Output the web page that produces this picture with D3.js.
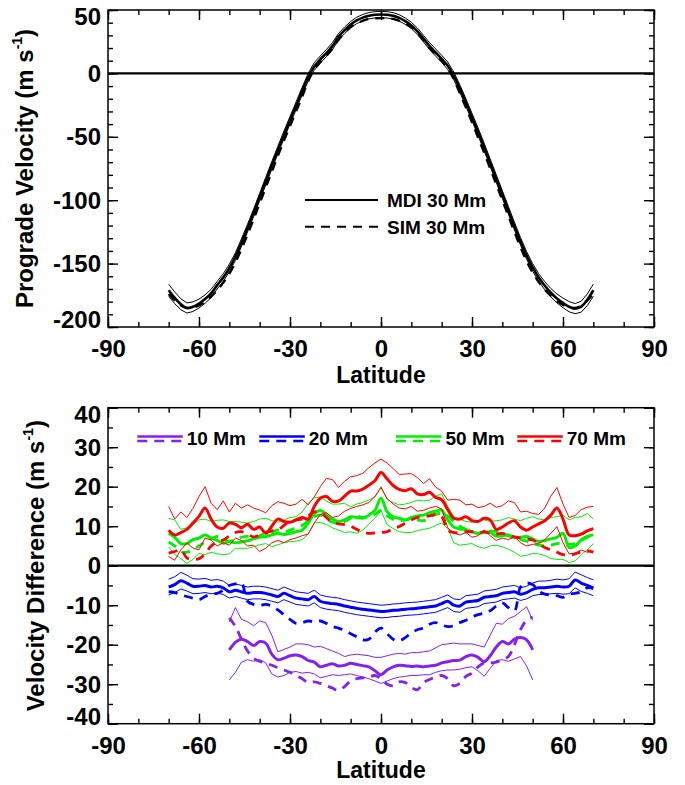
<!DOCTYPE html>
<html><head><meta charset="utf-8">
<script src="https://cdn.jsdelivr.net/npm/d3@7"></script>
<style>
body{margin:0;background:#fff}
svg text{font-family:"Liberation Sans",Arial,Helvetica,sans-serif;font-weight:bold;fill:#000}
</style>
</head><body>
<svg id="chart" width="685" height="785"></svg>
<script>
// ---------------- DATA ----------------
const xTicks = [-90, -60, -30, 0, 30, 60, 90];
const xMinorTicks = [-90,-80,-70,-60,-50,-40,-30,-20,-10,0,10,20,30,40,50,60,70,80,90];
const yTicksTop = [-200, -150, -100, -50, 0, 50];
const yMinorTop = [-200,-190,-180,-170,-160,-150,-140,-130,-120,-110,-100,-90,-80,-70,-60,-50,-40,-30,-20,-10,0,10,20,30,40,50];
const yTicksBot = [-40, -30, -20, -10, 0, 10, 20, 30, 40];
const yMinorBot = [-40,-35,-30,-25,-20,-15,-10,-5,0,5,10,15,20,25,30,35,40];

const lat70 = d3.range(-70, 71, 2);   // latitude grid, 71 points
const lat50 = d3.range(-50, 51, 2);   // latitude grid, 51 points

// Top panel: prograde velocity at 30 Mm
const mdi30 = [
 -171,-177,-182,-185,-184,-181.5,-178,-173.5,-167,-161,-153.5,-144.5,
 -133.5,-122,-110,-97.5,-85,-72.5,-60.5,-48.5,-37,-25.5,-14,-3,
 5.5,11,16,21.5,29,34,38.5,41.8,44,45.5,46.2,46.4,
 46.2,45.4,43.8,41.2,37.8,33.2,27.5,21.5,16.5,11.5,6,-2,
 -12,-23,-34.5,-46,-58,-70.5,-83,-95.5,-108,-120.5,-132.5,-143.5,
 -153,-161,-167.5,-173,-177.5,-181,-184,-185.5,-184,-178.5,-171];
const mdi30Err = [
 4.8,4.6,4.3,4,3.8,3.5,3.3,3.2,3,3,3,3,
 3,3,3,3,3,3,3,3,3,3,3,3,
 3,2.8,2.8,2.8,2.6,2.6,2.5,2.5,2.5,2.5,2.5,2.5,
 2.5,2.5,2.5,2.5,2.5,2.6,2.6,2.8,2.8,2.8,3,3,
 3,3,3,3,3,3,3,3,3,3,3,3,
 3,3,3.2,3.3,3.5,3.8,4,4,4.3,4.6,4.8];
const sim30 = [
 -174,-179,-183,-185,-184.5,-183,-180,-176,-171,-165,-158,-149,
 -138.5,-127,-115,-102.5,-90,-77.5,-65,-53,-41.5,-30,-18.5,-6,
 3,9,14,19.5,26.5,32,36.5,39.5,41.5,43,43.5,43.6,
 43.5,43,41.5,39.5,36.5,32,26,20,15,10,4.5,-4.5,
 -15.5,-27,-38.5,-50.5,-62.5,-75,-87.5,-100,-112.5,-125,-137,-148,
 -157,-164.5,-170.5,-175.5,-179.5,-182.5,-184.5,-185,-183.5,-179,-174];

// Bottom panel: velocity differences
const mdi70 = [
 9.0,7.8,8.4,9.2,10.8,12.5,14.6,11.8,9.8,9.5,10.8,10.5,
 9.6,10.5,9.2,9.8,8.2,10.0,11.8,11.2,11.0,11.6,12.2,11.8,
 15.0,17.1,17.5,16.3,16.4,17.6,18.9,18.9,19.4,20.4,21.5,23.6,
 22.0,20.3,19.3,19.0,19.5,18.2,18.0,18.6,17.3,16.7,14.2,12.0,
 11.8,12.4,11.4,11.2,12.0,11.6,9.2,9.8,10.8,11.4,9.8,9.0,
 9.8,10.6,11.4,12.8,14.6,11.8,7.8,7.6,8.0,8.8,9.4];
const mdi70Hi = [
 15.0,11.8,13.6,12.2,14.5,17.5,20.0,15.8,14.2,16.4,13.6,15.8,
 14.6,15.4,14.6,14.1,13.4,15.2,16.2,15.8,15.2,15.6,16.8,15.4,
 17.4,20.0,22.1,21.8,19.8,21.4,22.5,22.8,23.4,24.8,26.0,27.0,
 26.0,24.6,23.1,23.2,23.3,22.3,20.8,22.0,19.9,18.9,16.6,16.8,
 16.6,15.4,15.6,14.7,15.0,15.8,14.8,15.2,16.4,16.0,13.6,13.8,
 13.2,13.0,14.6,17.6,19.8,15.6,12.2,12.7,14.2,14.8,15.0];
const mdi70Lo = [
 2.3,1.4,4.0,5.8,4.5,4.0,7.0,6.5,5.0,5.8,5.2,7.0,
 6.4,5.0,5.2,3.6,4.4,5.8,6.4,5.8,6.6,7.0,7.6,8.0,
 10.8,13.0,13.4,12.2,12.6,13.8,14.5,15.0,15.4,16.0,17.5,19.8,
 17.0,15.6,14.6,14.4,15.0,13.8,14.0,14.6,15.0,14.4,9.6,8.2,
 7.8,8.4,7.2,7.6,9.0,7.6,6.4,7.0,6.6,7.4,5.8,5.0,
 5.4,5.6,6.6,8.2,9.9,5.8,3.0,3.2,4.0,3.4,3.7];
const sim70 = [
 3.2,3.6,4.0,2.0,1.6,1.8,3.0,5.0,6.0,6.5,7.5,8.4,
 8.6,8.0,7.3,7.8,8.4,8.8,9.0,10.2,11.2,11.6,11.8,12.6,
 13.6,13.4,12.2,11.0,10.6,10.4,10.0,9.2,8.4,8.2,8.3,8.4,
 8.6,9.4,9.9,10.8,11.6,12.2,12.4,12.6,13.0,12.4,9.0,8.4,
 8.4,8.6,8.6,8.4,8.5,8.3,8.0,8.2,7.8,7.3,7.0,6.8,
 6.5,5.6,4.6,4.0,3.4,2.8,2.6,3.0,3.5,3.8,3.4];

const mdi50 = [
 8.2,7.2,5.6,5.6,6.6,7.0,7.8,7.0,6.4,5.7,6.1,5.8,
 6.0,6.3,6.8,7.2,7.4,7.8,8.2,7.9,8.2,8.6,9.0,10.8,
 13.2,14.0,13.0,11.8,11.2,11.6,12.4,12.2,12.0,12.8,14.0,17.1,
 13.7,12.4,12.0,11.6,12.2,12.6,12.8,13.4,13.8,14.1,11.6,9.8,
 9.3,9.1,8.6,8.2,8.6,8.4,7.5,7.6,7.8,7.1,7.2,7.4,
 6.8,6.1,6.4,6.8,7.2,8.2,4.6,5.0,6.5,7.4,7.8];
const mdi50Hi = [
 12.0,11.6,9.2,9.6,10.4,11.6,11.8,11.2,11.5,11.6,11.2,11.2,
 11.0,10.8,11.2,11.8,12.0,11.4,11.0,11.6,12.2,12.4,13.6,15.8,
 17.2,17.4,16.4,15.6,15.6,15.8,14.9,15.6,16.0,16.6,17.4,20.0,
 16.8,16.0,15.4,15.6,16.0,16.6,16.4,16.6,17.6,18.2,15.0,12.4,
 11.8,11.2,11.0,11.4,11.6,11.2,11.4,11.6,12.2,11.8,11.4,12.0,
 12.4,11.8,11.6,12.2,12.4,12.8,11.6,12.2,12.4,13.2,11.8];
const mdi50Lo = [
 4.8,2.8,1.8,0.6,1.6,3.1,2.8,3.4,3.0,2.8,3.0,4.4,
 4.4,4.4,4.8,5.3,5.6,4.8,5.3,5.8,6.1,6.2,6.6,8.0,
 10.8,11.0,10.4,9.6,9.0,8.4,8.6,8.2,9.0,10.6,12.0,14.0,
 10.4,9.4,8.6,8.4,8.4,8.9,9.2,9.5,10.2,10.8,9.4,5.8,
 5.2,5.4,5.6,4.8,4.4,5.0,5.2,4.8,4.2,3.4,2.4,2.6,
 3.1,3.0,2.6,1.8,1.6,1.6,0.8,1.2,2.8,4.0,5.6];
const sim50 = [
 6.0,5.0,3.6,3.4,4.2,5.0,6.0,6.8,7.4,6.8,6.2,6.6,
 7.2,7.4,7.0,7.6,8.2,8.6,9.0,8.6,9.0,9.6,10.2,11.4,
 12.4,12.8,11.8,11.0,10.8,11.2,12.0,12.6,12.2,12.4,13.0,14.0,
 12.6,11.8,11.4,11.6,11.8,11.6,11.4,12.0,13.0,13.2,12.6,11.2,
 10.0,9.2,8.6,8.2,8.4,8.8,8.6,8.0,7.6,7.0,6.6,6.2,
 5.6,5.2,5.0,5.2,5.6,5.8,5.4,5.6,6.4,7.2,8.0];

const mdi20 = [
 -5.4,-4.8,-3.8,-4.4,-5.2,-5.2,-5.0,-5.4,-5.2,-5.6,-6.6,-6.2,
 -6.6,-7.0,-6.8,-6.8,-7.0,-7.4,-7.8,-7.0,-7.6,-8.2,-8.4,-8.6,
 -7.8,-9.0,-9.4,-9.6,-9.8,-10.2,-10.5,-10.8,-11.0,-11.2,-11.4,-11.6,
 -11.5,-11.3,-11.2,-11.0,-10.9,-10.8,-10.6,-10.4,-10.2,-9.6,-9.0,-10.0,
 -10.2,-9.2,-9.0,-8.8,-8.0,-7.8,-7.6,-7.0,-6.8,-6.6,-7.2,-6.8,
 -6.0,-5.6,-5.6,-5.4,-5.2,-5.4,-5.2,-3.6,-4.4,-5.0,-5.6];
const mdi20Err = [
 2.0,2.0,2.1,2.0,1.9,1.8,1.8,1.7,1.7,1.7,1.6,1.6,
 1.6,1.6,1.6,1.6,1.6,1.6,1.6,1.6,1.6,1.6,1.6,1.6,
 1.6,1.6,1.6,1.6,1.6,1.6,1.6,1.6,1.6,1.6,1.6,1.6,
 1.6,1.6,1.6,1.6,1.6,1.6,1.6,1.6,1.6,1.6,1.6,1.6,
 1.6,1.6,1.6,1.6,1.6,1.6,1.6,1.6,1.6,1.6,1.6,1.6,
 1.6,1.7,1.7,1.7,1.8,1.8,1.9,2.0,2.1,2.0,2.0];
const sim20 = [
 -6.6,-6.8,-7.4,-7.8,-8.2,-8.6,-7.8,-7.2,-7.0,-6.2,-5.0,-4.6,
 -4.4,-9.0,-9.8,-10.0,-9.8,-10.2,-11.2,-12.4,-13.6,-14.6,-14.4,-14.0,
 -14.2,-14.0,-14.6,-15.4,-15.8,-16.4,-17.2,-18.0,-18.8,-18.6,-16.8,-15.8,
 -17.2,-18.6,-19.0,-18.2,-17.0,-16.2,-15.8,-14.8,-14.4,-15.0,-15.4,-15.2,
 -14.4,-13.8,-13.0,-12.4,-12.0,-11.4,-10.2,-9.4,-10.6,-11.4,-5.4,-4.4,
 -4.8,-6.4,-7.2,-7.4,-7.6,-8.0,-7.2,-7.0,-6.6,-5.6,-5.8];

const mdi10 = [
 -21.3,-19.4,-18.6,-19.2,-20.2,-19.2,-19.6,-22.4,-23.8,-23.4,-22.8,-22.6,
 -23.0,-24.0,-24.4,-25.6,-25.2,-24.8,-25.4,-25.2,-24.7,-25.0,-25.3,-25.6,
 -26.6,-27.6,-26.4,-25.6,-25.2,-25.3,-25.5,-25.4,-25.6,-25.4,-25.2,-24.6,
 -24.3,-24.0,-23.9,-23.0,-22.6,-23.2,-24.3,-22.8,-20.6,-19.2,-19.8,-18.6,
 -18.2,-18.8,-21.3];
const mdi10Hi = [
 -14.2,-10.6,-13.6,-14.2,-15.2,-14.0,-14.4,-17.6,-21.8,-21.2,-20.6,-19.8,
 -19.8,-20.0,-20.6,-20.4,-21.0,-21.6,-22.2,-23.0,-22.6,-22.4,-22.6,-22.8,
 -23.2,-23.2,-22.8,-22.4,-22.2,-22.4,-22.0,-22.0,-21.8,-21.6,-20.8,-20.0,
 -19.8,-19.6,-19.8,-19.8,-19.8,-20.2,-20.6,-17.6,-14.6,-14.8,-13.4,-12.8,
 -11.6,-10.4,-13.8];
const mdi10Lo = [
 -28.9,-27.0,-24.4,-23.8,-24.2,-23.8,-24.6,-27.4,-28.2,-27.8,-27.0,-26.8,
 -27.2,-27.0,-27.4,-28.4,-28.0,-27.6,-27.8,-27.6,-27.4,-27.8,-28.2,-28.6,
 -29.2,-29.8,-29.2,-28.6,-28.2,-28.0,-27.8,-27.8,-27.6,-27.6,-27.0,-26.6,
 -26.4,-26.4,-26.2,-25.8,-25.6,-26.6,-28.0,-26.0,-24.0,-23.8,-24.2,-23.6,
 -23.0,-25.4,-28.9];
const sim10 = [
 -13.2,-15.4,-18.6,-21.6,-23.4,-24.2,-24.6,-25.2,-25.8,-26.4,-27.0,-27.8,
 -28.6,-29.6,-29.4,-29.8,-30.4,-31.0,-31.6,-30.6,-29.2,-28.6,-28.4,-28.2,
 -27.8,-28.6,-30.0,-30.4,-29.4,-29.6,-30.8,-31.4,-29.6,-28.8,-28.2,-27.8,
 -28.6,-30.4,-29.8,-28.0,-27.2,-25.6,-24.6,-24.6,-24.4,-23.8,-23.0,-20.0,
 -16.2,-13.8,-13.0];

const depthLabels = ["10 Mm", "20 Mm", "50 Mm", "70 Mm"];
const depthColors = ["#8420f0", "#0000ff", "#00f000", "#ff0000"];
const topLegend = ["MDI 30 Mm", "SIM 30 Mm"];

// ---------------- DRAWING ----------------
const svg = d3.select("#chart");
const FONT = '"Liberation Sans",Arial,Helvetica,sans-serif';
const L = 108, R = 654;
const x = d3.scaleLinear().domain([-90, 90]).range([L, R]);

const topP = {top: 10, bottom: 327, titleOff: 56};
const botP = {top: 407.7, bottom: 723.7, titleOff: 54.5};
const yTop = d3.scaleLinear().domain([-200, 50]).range([topP.bottom, topP.top]);
const yBot = d3.scaleLinear().domain([-40, 40]).range([botP.bottom, botP.top]);

function styleAxis(g) {
  g.select(".domain").remove();
  g.selectAll("line").attr("stroke", "#000").attr("stroke-width", 1.4);
  g.attr("font-family", FONT).attr("font-size", 24).attr("font-weight", "bold");
  g.selectAll("text").attr("fill", "#000");
}

function drawAxes(y, yMajor, yMinor, p) {
  const fmt = d => String(d);
  // bottom
  svg.append("g").attr("transform", `translate(0,${p.bottom})`)
    .call(d3.axisBottom(x).tickValues(xMinorTicks).tickSizeInner(-5).tickSizeOuter(0).tickFormat(""))
    .call(styleAxis);
  svg.append("g").attr("transform", `translate(0,${p.bottom})`)
    .call(d3.axisBottom(x).tickValues(xTicks).tickSizeInner(-10).tickSizeOuter(0).tickPadding(13).tickFormat(fmt))
    .call(styleAxis);
  // top
  svg.append("g").attr("transform", `translate(0,${p.top})`)
    .call(d3.axisTop(x).tickValues(xMinorTicks).tickSizeInner(-5).tickSizeOuter(0).tickFormat(""))
    .call(styleAxis);
  svg.append("g").attr("transform", `translate(0,${p.top})`)
    .call(d3.axisTop(x).tickValues(xTicks).tickSizeInner(-10).tickSizeOuter(0).tickFormat(""))
    .call(styleAxis);
  // left
  svg.append("g").attr("transform", `translate(${L},0)`)
    .call(d3.axisLeft(y).tickValues(yMinor).tickSizeInner(-5).tickSizeOuter(0).tickFormat(""))
    .call(styleAxis);
  const gl = svg.append("g").attr("transform", `translate(${L},0)`)
    .call(d3.axisLeft(y).tickValues(yMajor).tickSizeInner(-10).tickSizeOuter(0).tickPadding(7).tickFormat(fmt))
    .call(styleAxis);
  const dom = y.domain();
  gl.selectAll(".tick text").attr("dy", d => d === dom[1] ? "0.6em" : (d === dom[0] ? "0.04em" : "0.34em"));
  // right
  svg.append("g").attr("transform", `translate(${R},0)`)
    .call(d3.axisRight(y).tickValues(yMinor).tickSizeInner(-5).tickSizeOuter(0).tickFormat(""))
    .call(styleAxis);
  svg.append("g").attr("transform", `translate(${R},0)`)
    .call(d3.axisRight(y).tickValues(yMajor).tickSizeInner(-10).tickSizeOuter(0).tickFormat(""))
    .call(styleAxis);
  // frame
  svg.append("rect").attr("x", L).attr("y", p.top).attr("width", R - L).attr("height", p.bottom - p.top)
    .attr("fill", "none").attr("stroke", "#000").attr("stroke-width", 1.5);
  // zero line
  svg.append("line").attr("x1", L).attr("x2", R).attr("y1", y(0)).attr("y2", y(0))
    .attr("stroke", "#000").attr("stroke-width", 2.2);
  // x title
  svg.append("text").attr("x", x(0)).attr("y", p.bottom + p.titleOff).attr("text-anchor", "middle")
    .attr("font-size", 23).text("Latitude");
}

function yTitle(xb, yc, main) {
  const t = svg.append("text").attr("transform", `translate(${xb},${yc}) rotate(-90)`)
    .attr("text-anchor", "middle").attr("font-size", 24);
  t.append("tspan").text(main + " (m s");
  t.append("tspan").attr("font-size", 14).attr("dy", -11).text("-1");
  t.append("tspan").attr("dy", 11).text(")");
}

function plotLine(lats, vals, y, color, w, dash, curve) {
  const line = d3.line().x((d, i) => x(lats[i])).y(d => y(d)).curve(curve || d3.curveLinear);
  const p = svg.append("path").datum(vals).attr("d", line)
    .attr("fill", "none").attr("stroke", color).attr("stroke-width", w)
    .attr("stroke-linejoin", "round");
  if (dash) p.attr("stroke-dasharray", dash);
  return p;
}

// ---------- top panel ----------
drawAxes(yTop, yTicksTop, yMinorTop, topP);
yTitle(33, (topP.top + topP.bottom) / 2, "Prograde Velocity");
plotLine(lat70, mdi30.map((v, i) => v + mdi30Err[i]), yTop, "#000", 1);
plotLine(lat70, mdi30.map((v, i) => v - mdi30Err[i]), yTop, "#000", 1);
plotLine(lat70, sim30, yTop, "#000", 2.4, "9,7", d3.curveCatmullRom);
plotLine(lat70, mdi30, yTop, "#000", 2.6, null, d3.curveCatmullRom);

// top legend
svg.append("line").attr("x1", 305).attr("x2", 378).attr("y1", 200).attr("y2", 200)
  .attr("stroke", "#000").attr("stroke-width", 2);
svg.append("line").attr("x1", 305).attr("x2", 378).attr("y1", 226.7).attr("y2", 226.7)
  .attr("stroke", "#000").attr("stroke-width", 2).attr("stroke-dasharray", "9,7");
svg.append("text").attr("x", 387).attr("y", 207).attr("font-size", 19).text(topLegend[0]);
svg.append("text").attr("x", 387).attr("y", 233.5).attr("font-size", 19).text(topLegend[1]);

// ---------- bottom panel ----------
drawAxes(yBot, yTicksBot, yMinorBot, botP);
yTitle(44, (botP.top + botP.bottom) / 2, "Velocity Difference");

const series = [
  {lats: lat50, m: mdi10, hi: mdi10Hi, lo: mdi10Lo, s: sim10},
  {lats: lat70, m: mdi20, hi: mdi20.map((v, i) => v + mdi20Err[i]), lo: mdi20.map((v, i) => v - mdi20Err[i]), s: sim20},
  {lats: lat70, m: mdi50, hi: mdi50Hi, lo: mdi50Lo, s: sim50},
  {lats: lat70, m: mdi70, hi: mdi70Hi, lo: mdi70Lo, s: sim70}
];
series.forEach((sr, k) => {
  const c = depthColors[k];
  plotLine(sr.lats, sr.hi, yBot, c, 1);
  plotLine(sr.lats, sr.lo, yBot, c, 1);
  plotLine(sr.lats, sr.s, yBot, c, 2.8, "9,7", d3.curveCatmullRom);
  plotLine(sr.lats, sr.m, yBot, c, 3, null, d3.curveCatmullRom);
});

// bottom legend
const legX = [137.3, 259.3, 396, 517.3];
depthLabels.forEach((lab, k) => {
  const c = depthColors[k];
  svg.append("line").attr("x1", legX[k]).attr("x2", legX[k] + 45.5).attr("y1", 436.5).attr("y2", 436.5)
    .attr("stroke", c).attr("stroke-width", 2.6);
  svg.append("line").attr("x1", legX[k]).attr("x2", legX[k] + 45.5).attr("y1", 441).attr("y2", 441)
    .attr("stroke", c).attr("stroke-width", 2.6).attr("stroke-dasharray", "10,7");
  svg.append("text").attr("x", legX[k] + 49.5).attr("y", 444.5).attr("font-size", 19).text(lab);
});
</script>
</body></html>
